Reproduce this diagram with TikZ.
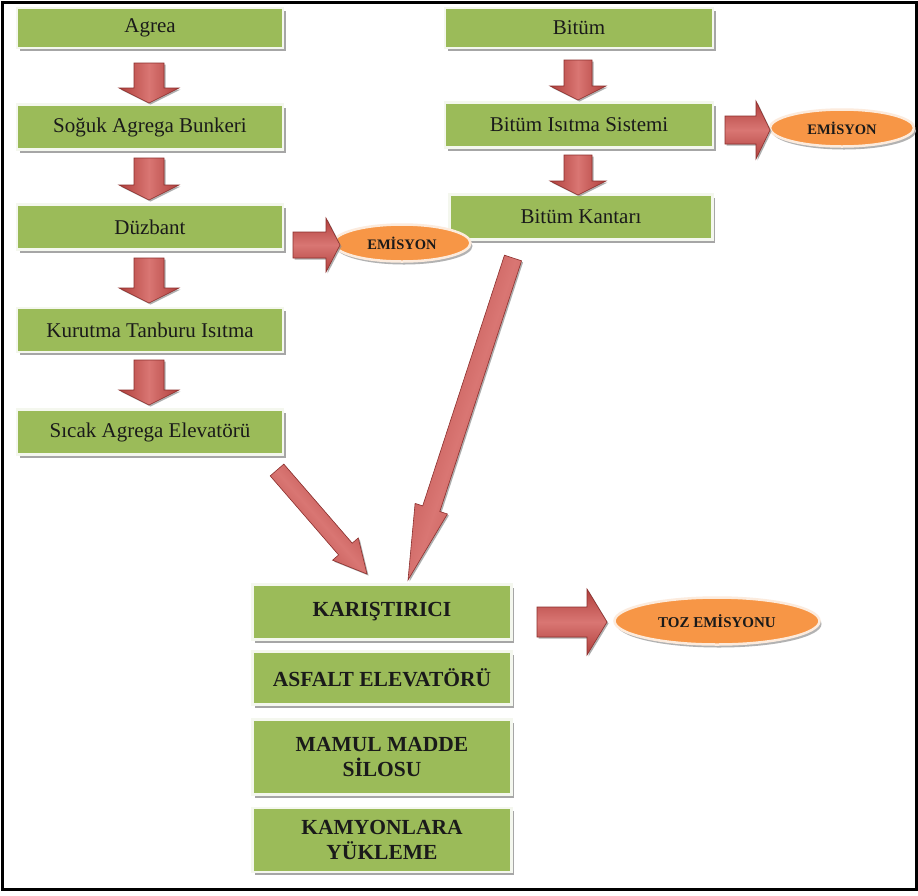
\documentclass[tikz,border=0pt]{standalone}
\usepackage{fontspec}
\setmainfont{Liberation Serif}
\usetikzlibrary{shapes.geometric,shadows,calc}
\definecolor{boxgreen}{HTML}{9BBB59}
\definecolor{boxedge}{HTML}{F4F7EE}
\definecolor{ovalfill}{HTML}{F79646}
\definecolor{ovaledge}{HTML}{FCEBDD}
\definecolor{arrdark}{HTML}{B03F3C}
\definecolor{arrlight}{HTML}{D97673}
\definecolor{arredge}{HTML}{8C2F2D}
\definecolor{txt}{HTML}{1A1A1A}
\tikzset{
  stepbox/.style={rectangle, fill=boxgreen, draw=boxedge, line width=2.5pt,
    minimum width=266pt, minimum height=45pt, inner sep=0pt, text=txt,
    font=\fontsize{21}{24}\selectfont,
    drop shadow={shadow xshift=2.5pt, shadow yshift=-3pt, fill=black!35, opacity=1}},
  boldbox/.style={stepbox, minimum width=259pt, align=center,
    font=\fontsize{21.5}{25}\selectfont\bfseries},
  oval/.style={ellipse, fill=ovalfill, draw=ovaledge, line width=2.5pt, inner sep=0pt,
    text=txt, font=\fontsize{14.5}{17}\selectfont\bfseries,
    drop shadow={shadow xshift=2pt, shadow yshift=-3pt, fill=black!30, opacity=1}},
  blkstyle/.style={top color=arrdark, bottom color=arrdark, middle color=arrlight,
    draw=arredge, line width=0.6pt, line join=miter,
    drop shadow={shadow xshift=1.5pt, shadow yshift=-1.5pt, fill=black!45, opacity=0.7}}
}
% start, end, shaft half width, head half width, head length, shading angle
\newcommand{\blkarrow}[6]{%
  \coordinate (ba-h) at ($(#2)!#5!(#1)$);
  \path[blkstyle, shading angle=#6]
    ($(#1)!#3!90:(#2)$) -- ($(ba-h)!#3!90:(#2)$) -- ($(ba-h)!#4!90:(#2)$) -- (#2)
    -- ($(ba-h)!#4!-90:(#2)$) -- ($(ba-h)!#3!-90:(#2)$) -- ($(#1)!#3!-90:(#2)$) -- cycle;
}
\begin{document}
\begin{tikzpicture}[x=1pt, y=-1pt]
\useasboundingbox (0,0) rectangle (918,895);
\fill[white] (0,0) rectangle (918,895);
\draw[line width=3pt] (2,2) rectangle (916.5,889);

% left column
\node[stepbox, minimum height=40pt] (agrea) at (150,28) {Agrea};
\node[stepbox] (sogu) at (150,127) {Soğuk Agrega Bunkeri};
\node[stepbox] (duz) at (150,227) {Düzbant};
\node[stepbox, minimum height=44pt] (kur) at (150,330) {Kurutma Tanburu Isıtma};
\node[stepbox] (sic) at (150,432) {Sıcak Agrega Elevatörü};

% right column
\node[stepbox, minimum width=268pt, minimum height=40pt] (bitum) at (579,28) {Bitüm};
\node[stepbox, minimum width=268pt] (bis) at (579,125) {Bitüm Isıtma Sistemi};
\node[stepbox, minimum width=263pt] (bkan) at (581,217) {Bitüm Kantarı};

% bottom column
\node[boldbox, minimum height=55pt] (kar) at (382,612) {KARIŞTIRICI};
\node[boldbox, minimum height=53pt] (asf) at (382,678) {ASFALT ELEVATÖRÜ};
\node[boldbox, minimum height=75pt] (mam) at (382,757) {MAMUL MADDE\\SİLOSU};
\node[boldbox, minimum height=64pt] (kam) at (382,840) {KAMYONLARA\\YÜKLEME};

% emission ovals
\node[oval, minimum width=137pt, minimum height=37pt] (em1) at (402,243) {EMİSYON};
\node[oval, minimum width=144pt, minimum height=37pt] (em2) at (842,128) {EMİSYON};
\node[oval, minimum width=205pt, minimum height=47pt, font=\fontsize{15}{18}\selectfont\bfseries] (toz) at (717,621) {TOZ EMİSYONU};

% arrow end points
\coordinate (a1s) at (149,63);  \coordinate (a1e) at (149,103);
\coordinate (a2s) at (149,158); \coordinate (a2e) at (149,200);
\coordinate (a3s) at (149,258); \coordinate (a3e) at (149,303);
\coordinate (a4s) at (149,360); \coordinate (a4e) at (149,405);
\coordinate (b1s) at (578,60);  \coordinate (b1e) at (578,100);
\coordinate (b2s) at (578,155); \coordinate (b2e) at (578,195);
\coordinate (h1s) at (293,245); \coordinate (h1e) at (340,245);
\coordinate (h2s) at (725,130); \coordinate (h2e) at (770,130);
\coordinate (h3s) at (537,622); \coordinate (h3e) at (607,622);
\coordinate (d1s) at (277,470); \coordinate (d1e) at (367,574);
\coordinate (d2s) at (513,258); \coordinate (d2e) at (408,580);

\blkarrow{a1s}{a1e}{15pt}{30pt}{15pt}{90}
\blkarrow{a2s}{a2e}{15pt}{30pt}{15pt}{90}
\blkarrow{a3s}{a3e}{15pt}{30pt}{15pt}{90}
\blkarrow{a4s}{a4e}{15pt}{30pt}{15pt}{90}
\blkarrow{b1s}{b1e}{14pt}{28pt}{14pt}{90}
\blkarrow{b2s}{b2e}{14pt}{28pt}{14pt}{90}
\blkarrow{h1s}{h1e}{13pt}{27pt}{14pt}{0}
\blkarrow{h2s}{h2e}{14pt}{29pt}{14pt}{0}
\blkarrow{h3s}{h3e}{15pt}{33pt}{20pt}{0}
\blkarrow{d1s}{d1e}{9pt}{17pt}{33pt}{-48.8}
\blkarrow{d2s}{d2e}{9pt}{17pt}{75pt}{-107.9}
\end{tikzpicture}
\end{document}
